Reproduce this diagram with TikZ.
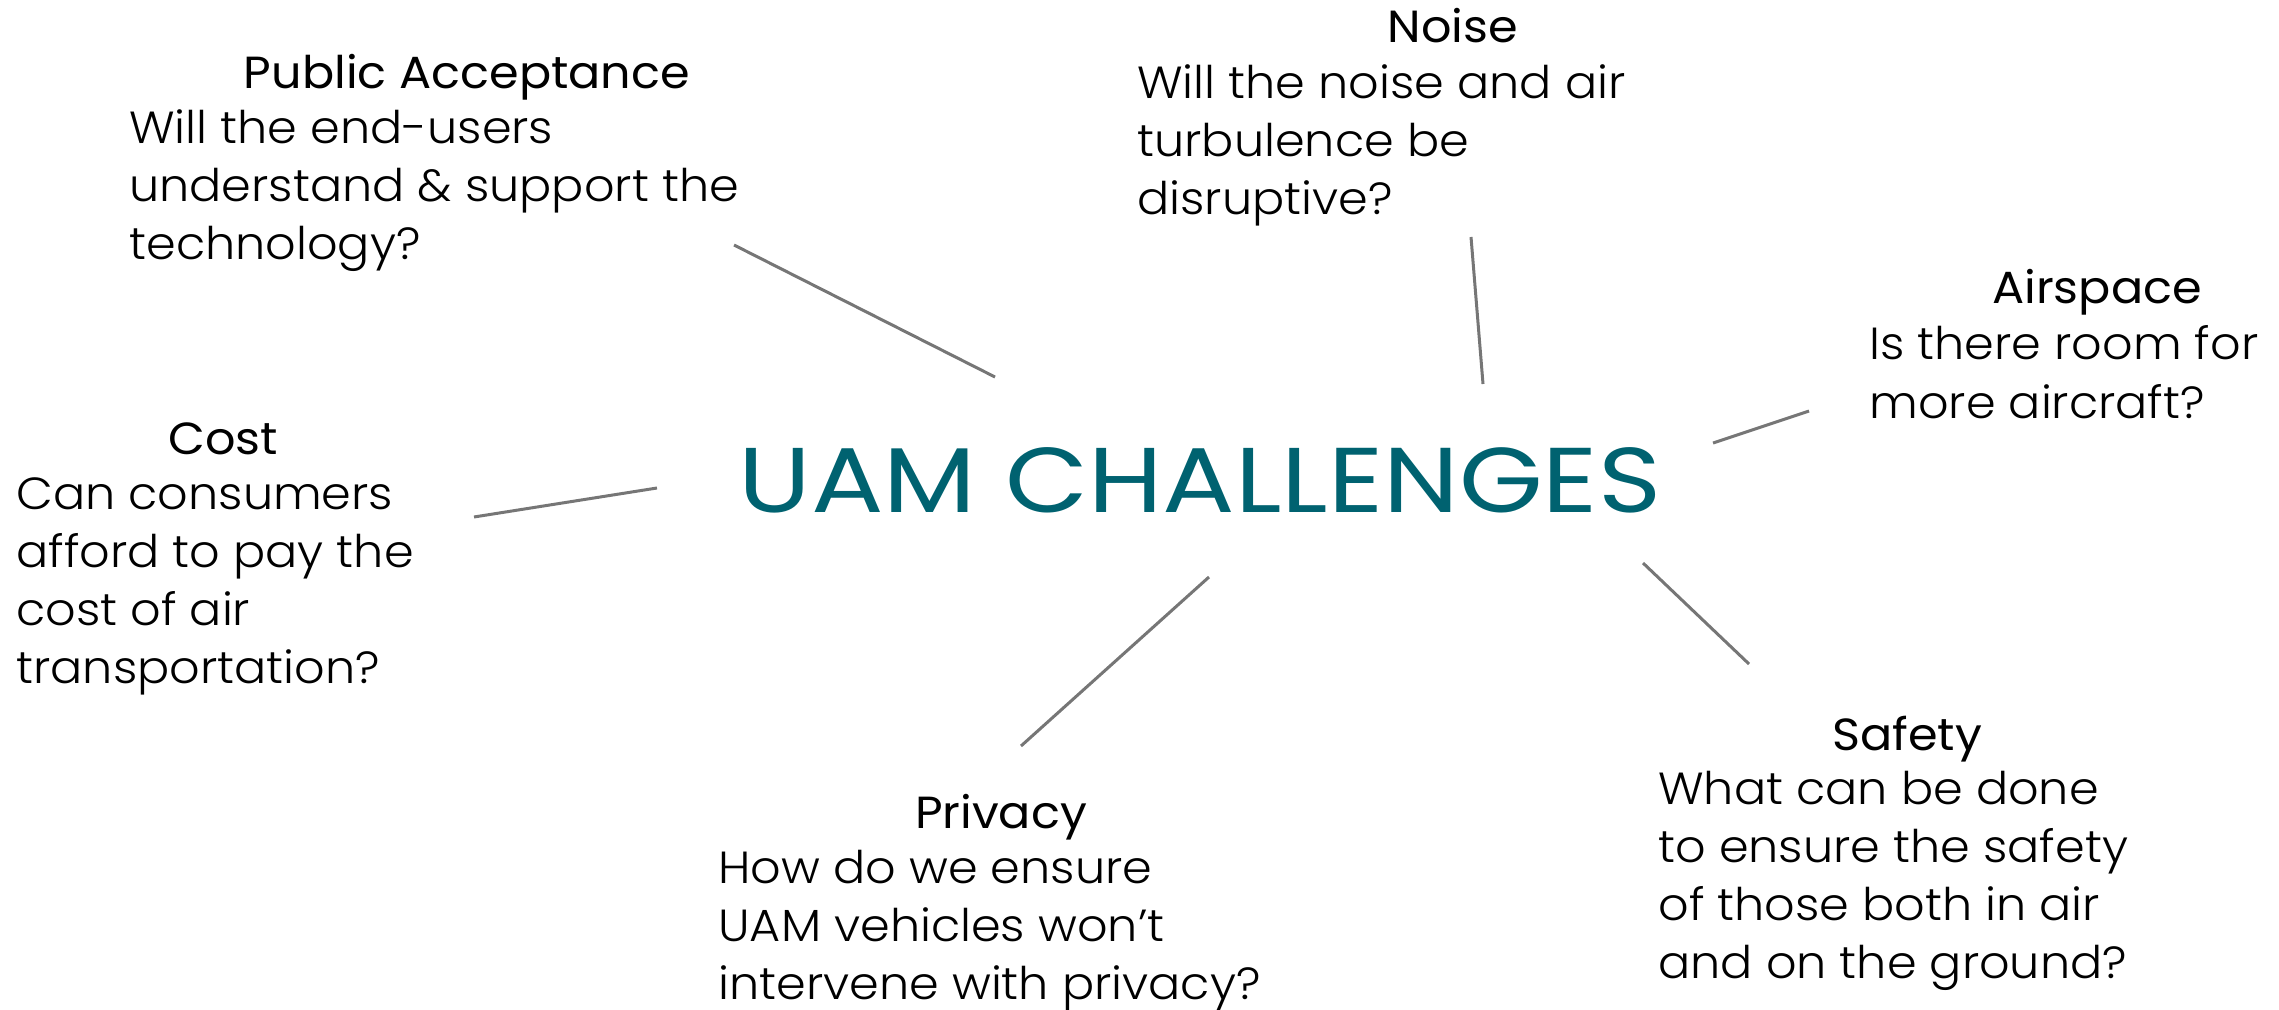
\documentclass[tikz,border=0pt]{standalone}
\usepackage{fontspec}
\setmainfont{Poppins}[FakeStretch=1.06]
\newfontfamily\thinfont{Poppins Light}[FakeStretch=1.06]
\newfontfamily\titlefont{Poppins}[FakeStretch=1.17]
\usetikzlibrary{positioning}
\definecolor{uamteal}{RGB}{0,98,112}
\definecolor{linkgray}{RGB}{118,118,118}

\begin{document}
\begin{tikzpicture}[x=0.5pt,y=-0.5pt,
	every text node part/.style={align=left},
	heading/.style={font=\fontsize{22.5}{29}\selectfont, inner sep=0pt, anchor=base},
	question/.style={font=\thinfont\fontsize{22.5}{29}\selectfont, inner sep=0pt, anchor=base west},
	link/.style={draw=linkgray, line width=1.5pt}]

	\useasboundingbox (0,0) rectangle (2279,1010);

	% Title
	\node[font=\titlefont\fontsize{46}{56}\selectfont, text=uamteal, inner sep=0pt, anchor=base west] (title) at (738,512) {UAM CHALLENGES};

	% Challenges (questions placed by their last line)
	\node[heading]  (pub)     at (467,89)   {Public Acceptance};
	\node[question] (pub-q)   at (129,260)  {Will the end-users\\understand \& support the\\technology?};
	\node[heading]  (noise)   at (1453,43)  {Noise};
	\node[question] (noise-q) at (1137,215) {Will the noise and air\\turbulence be\\disruptive?};
	\node[heading]  (air)     at (2097,304) {Airspace};
	\node[question] (air-q)   at (1869,418) {Is there room for\\more aircraft?};
	\node[heading]  (cost)    at (223,454)  {Cost};
	\node[question] (cost-q)  at (16,683)   {Can consumers\\afford to pay the\\cost of air\\transportation?};
	\node[heading]  (priv)    at (1001,828) {Privacy};
	\node[question] (priv-q)  at (718,999)  {How do we ensure\\UAM vehicles won’t\\intervene with privacy?};
	\node[heading]  (safe)    at (1907,750) {Safety};
	\node[question] (safe-q)  at (1658,978) {What can be done\\to ensure the safety\\of those both in air\\and on the ground?};

	% Spokes
	\coordinate (pub-a)   at (734,245);  \coordinate (pub-b)   at (995,377);
	\coordinate (noise-a) at (1471,237); \coordinate (noise-b) at (1483,384);
	\coordinate (air-a)   at (1809,411); \coordinate (air-b)   at (1713,443);
	\coordinate (cost-a)  at (474,517);  \coordinate (cost-b)  at (657,488);
	\coordinate (priv-a)  at (1209,577); \coordinate (priv-b)  at (1021,746);
	\coordinate (safe-a)  at (1643,563); \coordinate (safe-b)  at (1749,664);

	\draw [link] (pub-a)   to (pub-b);
	\draw [link] (noise-a) to (noise-b);
	\draw [link] (air-a)   to (air-b);
	\draw [link] (cost-a)  to (cost-b);
	\draw [link] (priv-a)  to (priv-b);
	\draw [link] (safe-a)  to (safe-b);

\end{tikzpicture}
\end{document}
